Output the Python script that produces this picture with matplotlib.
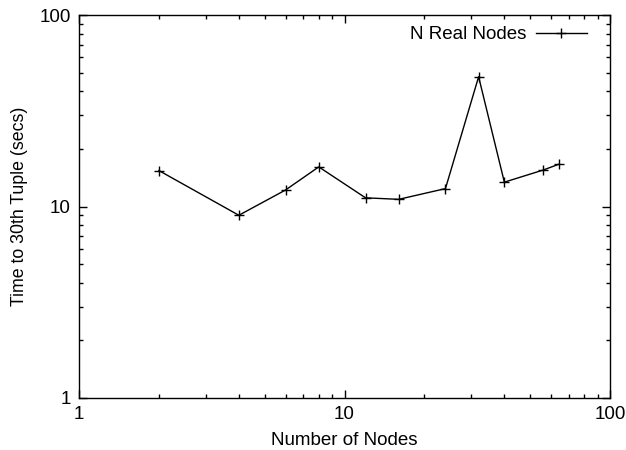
import matplotlib.pyplot as plt
from matplotlib.ticker import LogLocator, NullFormatter, FixedLocator, FixedFormatter

plt.rcParams["font.family"] = ["Liberation Sans", "DejaVu Sans"]

# data
nodes = [2, 4, 6, 8, 12, 16, 24, 32, 40, 56, 64]
time_30th = [15.4, 9.0, 12.2, 16.1, 11.1, 10.9, 12.4, 47.6, 13.4, 15.5, 16.6]
series_label = "N Real Nodes"
major_ticks = [1, 10, 100]
major_labels = ["1", "10", "100"]

fig = plt.figure(figsize=(6.26, 4.5), dpi=100)
ax = fig.add_axes([79 / 626, 1 - 398 / 450, (610 - 79) / 626, (398 - 15) / 450])

ax.plot(nodes, time_30th, color="black", linewidth=1.0, marker="+",
        markersize=7, markeredgewidth=1.0, label=series_label)

ax.set_xscale("log")
ax.set_yscale("log")
ax.set_xlim(1, 100)
ax.set_ylim(1, 100)

for axis in (ax.xaxis, ax.yaxis):
    axis.set_major_locator(FixedLocator(major_ticks))
    axis.set_major_formatter(FixedFormatter(major_labels))
    axis.set_minor_locator(LogLocator(base=10, subs=range(2, 10)))
    axis.set_minor_formatter(NullFormatter())

ax.tick_params(which="both", direction="in", top=True, right=True,
               labelsize=13.5, width=1.0)
ax.tick_params(which="major", length=6, pad=6)
ax.tick_params(which="minor", length=3)
for s in ax.spines.values():
    s.set_linewidth(1.0)

ax.set_xlabel("Number of Nodes", fontsize=13.5, labelpad=6)
ax.set_ylabel("Time to 30th Tuple (secs)", fontsize=12.8, labelpad=8)

# gnuplot-style key: text first, then the line sample
leg = ax.legend(loc="upper right", frameon=False, markerfirst=False,
                fontsize=13.5, handlelength=2.7, borderaxespad=0.2,
                borderpad=0.4, handletextpad=0.5,
                bbox_to_anchor=(1 - 12 / 531, 1.0))

fig.savefig("out.png", dpi=100)
